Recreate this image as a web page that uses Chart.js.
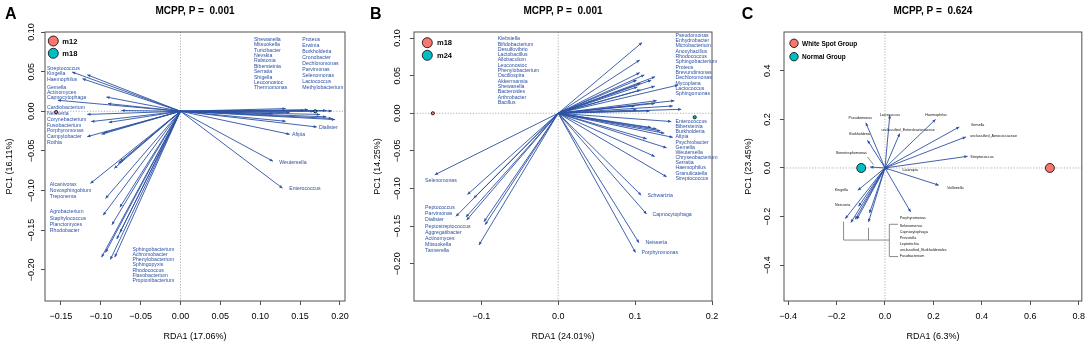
<!DOCTYPE html>
<html>
<head>
<meta charset="utf-8">
<script src="https://cdn.jsdelivr.net/npm/chart.js@4.4.1/dist/chart.umd.min.js"></script>
<style>
  body { margin: 0; background: #fff; width: 1091px; height: 346px; overflow: hidden; position: relative; }
  .panel { position: absolute; top: 0; height: 346px; }
</style>
</head>
<body>
<div class="panel" style="left:0;width:365px"><canvas id="chartA"></canvas></div>
<div class="panel" style="left:365px;width:360px"><canvas id="chartB"></canvas></div>
<div class="panel" style="left:725px;width:366px"><canvas id="chartC"></canvas></div>
<script>
const FONT = '"Liberation Sans", Arial, sans-serif';
const BLUE = '#2c51a4';

// ---------- panel A (m12 vs m18) ----------
const aArrowX = [-0.136, -0.117, -0.123, -0.154, -0.093, -0.091, -0.074, -0.117, -0.112, -0.090, -0.096, -0.099, -0.117,
  0.132, 0.155, 0.167, 0.183, 0.190, 0.116, 0.137, 0.160, 0.175, 0.183, 0.190, 0.194, 0.132, 0.171, 0.137, 0.116, 0.128,
  -0.113, -0.094, -0.097, -0.086, -0.076, -0.076, -0.080, -0.099, -0.094, -0.088, -0.0825, -0.083, -0.078, -0.076];
const aArrowY = [0.0495, 0.046, 0.041, 0.0139, 0.018, 0.0097, 0.001, -0.004, -0.013, -0.014, -0.027, -0.029, -0.032,
  0.0034, 0.001, 0.0, 0.001, 0.0004, -0.003, -0.0017, 0.002, -0.004, -0.007, -0.009, -0.0105, -0.0126, -0.0198, -0.029, -0.063, -0.097,
  -0.091, -0.110, -0.131, -0.143, -0.121, -0.153, -0.161, -0.184, -0.178, -0.187, -0.184, -0.072, -0.066, -0.064];
const aGroups = ['m12', 'm18'];
const aGroupX = [-0.156, 0.169];
const aGroupY = [-0.001, 0.0];
const aXTicks = [-0.15, -0.10, -0.05, 0, 0.05, 0.10, 0.15, 0.20];
const aYTicks = [-0.20, -0.15, -0.10, -0.05, 0, 0.05, 0.10];
const aTaxaL1 = ['Streptococcus', 'Kingella', 'Haemophilus'];
const aTaxaL2 = ['Gemella', 'Actinomyces', 'Capnocytophaga'];
const aTaxaL3 = ['Cardiobacterium', 'Neisseria', 'Corynebacterium', 'Fusobacterium', 'Porphyromonas', 'Campylobacter', 'Rothia'];
const aTaxaL4 = ['Alcanivorax', 'Novosphingobium', 'Treponema'];
const aTaxaL5 = ['Agrobacterium', 'Staphylococcus', 'Planctomyces', 'Rhodobacter'];
const aTaxaBot = ['Sphingobacterium', 'Achromobacter', 'Phenylobacterium', 'Sphingopyxis', 'Rhodococcus', 'Flavobacterium', 'Propionibacterium'];
const aTaxaTop1 = ['Shewanella', 'Mitsuokella', 'Turicibacter', 'Nevskia', 'Ralstonia', 'Bibersteinia', 'Serratia', 'Shigella', 'Leuconostoc', 'Thermomonas'];
const aTaxaTop2 = ['Proteus', 'Erwinia', 'Burkholderia', 'Cronobacter', 'Dechloromonas', 'Parvimonas', 'Selenomonas', 'Lactococcus', 'Methylobacterium'];

// ---------- panel B (m18 vs m24) ----------
const bArrowX = [0.109, 0.106, 0.106, 0.112, 0.126, 0.121, 0.102, 0.107, 0.103, 0.1256, 0.107, 0.156, 0.128, 0.151, 0.1256, 0.149, 0.160, 0.0996, 0.119, 0.102,
  0.147, 0.121, 0.128, 0.138, 0.133, 0.149, 0.115, 0.141, 0.1256, 0.141, 0.108, 0.115, 0.105, 0.1005,
  -0.1605, -0.118, -0.110, -0.133, -0.120, -0.119, -0.0965, -0.095, -0.103];
const bArrowY = [0.094, 0.0707, 0.054, 0.051, 0.0485, 0.044, 0.044, 0.040, 0.035, 0.036, 0.031, 0.0375, 0.0167, 0.0167, 0.013, 0.0097, 0.0053, 0.0097, 0.003, 0.0044,
  -0.011, -0.019, -0.021, -0.0265, -0.0235, -0.032, -0.034, -0.046, -0.0575, -0.0845, -0.109, -0.134, -0.172, -0.185,
  -0.0818, -0.108, -0.113, -0.137, -0.138, -0.142, -0.144, -0.148, -0.175];
const bGroups = ['m18', 'm24'];
const bGroupX = [-0.163, 0.1775];
const bGroupY = [0.0, -0.0053];
const bXTicks = [-0.1, 0, 0.1, 0.2];
const bYTicks = [-0.20, -0.15, -0.10, -0.05, 0, 0.05, 0.10];
const bTaxaTopL = ['Klebsiella', 'Bifidobacterium', 'Desulfovibrio', 'Lactobacillus', 'Allobaculum', 'Leuconostoc', 'Phenylobacterium', 'Oscillospira', 'Akkermansia', 'Shewanella', 'Bacteroides', 'Arthrobacter', 'Bacillus'];
const bTaxaTopR = ['Pseudomonas', 'Enhydrobacter', 'Microbacterium', 'Anoxybacillus', 'Rhodococcus', 'Sphingobacterium', 'Proteus', 'Brevundimonas', 'Dechloromonas', 'Mycoplana', 'Lactococcus', 'Sphingomonas'];
const bTaxaMidR = ['Enterococcus', 'Bibersteinia', 'Burkholderia', 'Afipia', 'Psychrobacter', 'Gemella', 'Weutersella', 'Chryseobacterium', 'Serratia', 'Haemophilus', 'Granulicatella', 'Streptococcus'];
const bTaxaBotL = ['Peptococcus', 'Parvimonas', 'Dialister', 'Peptostreptococcus', 'Aggregatibacter', 'Actinomyces', 'Mitsuokella', 'Tannerella'];

// ---------- panel C (white spot vs normal) ----------
const cArrowX = [-0.079, 0.020, 0.209, 0.307, 0.334, 0.341, -0.072, 0.061, -0.061, 0.0135, 0.222, -0.112, -0.109, 0.106, -0.164, -0.141, -0.123, -0.116, -0.064, -0.068];
const cArrowY = [0.186, 0.217, 0.200, 0.169, 0.128, 0.048, 0.114, 0.142, 0.004, -0.0054, -0.071, -0.092, -0.158, -0.181, -0.209, -0.225, -0.2115, -0.2115, -0.1856, -0.2227];
const cGroups = ['White Spot Group', 'Normal Group'];
const cGroupX = [0.681, -0.098];
const cGroupY = [0.0, 0.0];
const cXTicks = [-0.4, -0.2, 0, 0.2, 0.4, 0.6, 0.8];
const cYTicks = [-0.4, -0.2, 0, 0.2, 0.4];
const cTaxaGroup = ['Selenomonas', 'Capnocytophaga', 'Prevotella', 'Leptotrichia', 'unclassified_Burkholderiales', 'Fusobacterium'];

const SALMON = '#f8766d', TEAL = '#00bfc4';

const fmt = d => v => (v < 0 ? '\u2212' : '') + Math.abs(v).toFixed(d);

function rdaPlugin(p) {
  return {
    id: 'rda' + p.letter,
    beforeDatasetsDraw(chart) {
      const { ctx, chartArea: ca, scales: { x, y } } = chart;
      const X = v => x.getPixelForValue(v), Y = v => y.getPixelForValue(v);
      ctx.save();
      ctx.strokeStyle = '#9a9a9a';
      ctx.lineWidth = 0.8;
      ctx.setLineDash([1.2, 1.6]);
      ctx.beginPath();
      ctx.moveTo(X(0), ca.top); ctx.lineTo(X(0), ca.bottom);
      ctx.moveTo(ca.left, Y(0)); ctx.lineTo(ca.right, Y(0));
      ctx.stroke();
      ctx.setLineDash([]);

      // grey connector lines (panel C)
      ctx.strokeStyle = '#6e6e6e';
      ctx.lineWidth = 0.8;
      (p.extraLines || []).forEach(l => {
        ctx.beginPath();
        ctx.moveTo(X(l[0]), Y(l[1]));
        ctx.lineTo(X(l[2]), Y(l[3]));
        ctx.stroke();
      });

      // arrows
      ctx.strokeStyle = BLUE;
      ctx.fillStyle = BLUE;
      ctx.lineWidth = 0.9;
      const x0 = X(0), y0 = Y(0);
      p.arrowX.forEach((ax, i) => {
        const x1 = X(ax), y1 = Y(p.arrowY[i]);
        ctx.beginPath(); ctx.moveTo(x0, y0); ctx.lineTo(x1, y1); ctx.stroke();
        const a = Math.atan2(y1 - y0, x1 - x0), c = Math.cos(a), s = Math.sin(a);
        ctx.beginPath();
        ctx.moveTo(x1, y1);
        ctx.lineTo(x1 - 3.2 * c + 1.5 * s, y1 - 3.2 * s - 1.5 * c);
        ctx.lineTo(x1 - 3.2 * c - 1.5 * s, y1 - 3.2 * s + 1.5 * c);
        ctx.closePath();
        ctx.fill();
      });

      // taxon labels
      ctx.font = p.labelFont;
      ctx.fillStyle = p.labelColor;
      ctx.textBaseline = 'middle';
      p.labels.forEach(([names, lx, ly, step, align]) => {
        ctx.textAlign = align || 'left';
        names.forEach((n, k) => ctx.fillText(n, X(lx), Y(ly) + k * step));
      });
      ctx.restore();
    },
    afterDraw(chart) {
      const { ctx, chartArea: ca, scales: { y } } = chart;
      ctx.save();
      ctx.strokeStyle = '#505050';
      ctx.lineWidth = 1;
      ctx.strokeRect(ca.left, ca.top, ca.width, ca.height);

      // rotated y tick labels, R style
      ctx.fillStyle = '#000';
      ctx.font = '9px ' + FONT;
      ctx.textAlign = 'center';
      ctx.textBaseline = 'middle';
      y.ticks.forEach(t => {
        ctx.save();
        ctx.translate(ca.left - p.yLabelOffset, y.getPixelForValue(t.value));
        ctx.rotate(-Math.PI / 2);
        ctx.fillText(p.yFmt(t.value), 0, 0);
        ctx.restore();
      });

      // title and panel letter
      ctx.font = 'bold 10px ' + FONT;
      ctx.fillText(p.title, (ca.left + ca.right) / 2, 11);
      ctx.font = 'bold 16px ' + FONT;
      ctx.textAlign = 'left';
      ctx.fillText(p.letter, p.letterX, 15);

      // legend
      ctx.font = p.legendFont;
      p.groups.forEach((g, i) => {
        const cx = ca.left + p.legend.x, cy = ca.top + p.legend.y + i * p.legend.step;
        ctx.beginPath();
        ctx.arc(cx, cy, p.legend.r, 0, Math.PI * 2);
        ctx.fillStyle = i === 0 ? SALMON : TEAL;
        ctx.fill();
        ctx.strokeStyle = '#000';
        ctx.lineWidth = 0.8;
        ctx.stroke();
        ctx.fillStyle = '#000';
        ctx.fillText(g, cx + p.legend.tx, cy + 0.5);
      });
      ctx.restore();
    }
  };
}

function makePanel(id, p) {
  const axisFont = { size: 9, family: FONT };
  new Chart(document.getElementById(id), {
    type: 'scatter',
    data: {
      datasets: p.groups.map((g, i) => ({
        label: g,
        data: [{ x: p.groupX[i], y: p.groupY[i] }],
        backgroundColor: i === 0 ? SALMON : TEAL,
        borderColor: '#000',
        borderWidth: 0.8,
        pointRadius: p.pointRadius
      }))
    },
    options: {
      responsive: true,
      maintainAspectRatio: false,
      animation: false,
      events: [],
      layout: { padding: { top: 32, right: p.padRight, left: 0, bottom: 0 } },
      plugins: { legend: { display: false }, tooltip: { enabled: false }, title: { display: false } },
      scales: {
        x: {
          type: 'linear', min: p.xMin, max: p.xMax,
          afterBuildTicks: s => { s.ticks = p.xTicks.map(v => ({ value: v })); },
          afterFit: s => { s.height = 45; },
          grid: { drawOnChartArea: false, drawTicks: true, tickLength: 4, color: '#505050' },
          border: { display: false },
          ticks: { font: axisFont, color: '#000', padding: 6, maxRotation: 0, autoSkip: false, callback: p.xFmt },
          title: { display: true, text: p.xTitle, font: axisFont, color: '#000', padding: { top: 4, bottom: 4 } }
        },
        y: {
          type: 'linear', min: p.yMin, max: p.yMax,
          afterBuildTicks: s => { s.ticks = p.yTicks.map(v => ({ value: v })); },
          afterFit: s => { s.width = p.yWidth; },
          grid: { drawOnChartArea: false, drawTicks: true, tickLength: 4, color: '#505050' },
          border: { display: false },
          ticks: { display: false },
          title: { display: true, text: p.yTitle, font: axisFont, color: '#000', padding: { top: p.yTitlePad, bottom: p.yTitlePad } }
        }
      }
    },
    plugins: [rdaPlugin(p)]
  });
}

makePanel('chartA', {
  letter: 'A', letterX: 5, title: 'MCPP, P =  0.001',
  xTitle: 'RDA1 (17.06%)', yTitle: 'PC1 (16.11%)',
  xMin: -0.170, xMax: 0.2064, yMin: -0.2393, yMax: 0.10,
  xTicks: aXTicks, yTicks: aYTicks, xFmt: fmt(2), yFmt: fmt(2),
  yWidth: 45, padRight: 20, yLabelOffset: 13.5, yTitlePad: 4.5,
  arrowX: aArrowX, arrowY: aArrowY,
  groups: aGroups, groupX: aGroupX, groupY: aGroupY, pointRadius: 1.6,
  legend: { x: 8.3, y: 9, step: 12.3, r: 5, tx: 9 }, legendFont: 'bold 7.5px ' + FONT,
  labelFont: '5.2px ' + FONT, labelColor: BLUE,
  labels: [
    [aTaxaL1, -0.1676, 0.0538, 5.35],
    [aTaxaL2, -0.1676, 0.0293, 5.0],
    [aTaxaL3, -0.1676, 0.0042, 5.77],
    [aTaxaL4, -0.164, -0.0928, 6.0],
    [aTaxaL5, -0.164, -0.127, 6.2],
    [aTaxaBot, -0.0603, -0.1738, 5.33],
    [aTaxaTop1, 0.0921, 0.0907, 5.4],
    [aTaxaTop2, 0.1528, 0.0907, 6.08],
    [['Dialister'], 0.1737, -0.0202, 0],
    [['Afipia'], 0.140, -0.029, 0],
    [['Weutersella'], 0.1239, -0.0642, 0],
    [['Enterococcus'], 0.1364, -0.0974, 0]
  ]
});

makePanel('chartB', {
  letter: 'B', letterX: 5, title: 'MCPP, P =  0.001',
  xTitle: 'RDA1 (24.01%)', yTitle: 'PC1 (14.25%)',
  xMin: -0.1875, xMax: 0.2, yMin: -0.2495, yMax: 0.108,
  xTicks: bXTicks, yTicks: bYTicks, xFmt: fmt(1), yFmt: fmt(2),
  yWidth: 49, padRight: 13, yLabelOffset: 16, yTitlePad: 7,
  arrowX: bArrowX, arrowY: bArrowY,
  groups: bGroups, groupX: bGroupX, groupY: bGroupY, pointRadius: 1.6,
  legend: { x: 13.3, y: 10.7, step: 12.6, r: 5, tx: 9.7 }, legendFont: 'bold 7.5px ' + FONT,
  labelFont: '5.2px ' + FONT, labelColor: BLUE,
  labels: [
    [bTaxaTopL, -0.0787, 0.0989, 5.3],
    [bTaxaTopR, 0.1525, 0.1038, 5.33],
    [bTaxaMidR, 0.1525, -0.0111, 5.15],
    [['Selenomonas'], -0.1731, -0.0889, 0],
    [bTaxaBotL, -0.1731, -0.1256, 6.1],
    [['Schwartzia'], 0.1161, -0.1097, 0],
    [['Capnocytophaga'], 0.1226, -0.1349, 0],
    [['Neisseria'], 0.1135, -0.1724, 0],
    [['Porphyromonas'], 0.1083, -0.1853, 0]
  ]
});

makePanel('chartC', {
  letter: 'C', letterX: 16.7, title: 'MCPP, P =  0.624',
  xTitle: 'RDA1 (6.3%)', yTitle: 'PC1 (23.45%)',
  xMin: -0.417, xMax: 0.813, yMin: -0.548, yMax: 0.56,
  xTicks: cXTicks, yTicks: cYTicks, xFmt: fmt(1), yFmt: fmt(1),
  yWidth: 59, padRight: 6, yLabelOffset: 16, yTitlePad: 18,
  arrowX: cArrowX, arrowY: cArrowY,
  groups: cGroups, groupX: cGroupX, groupY: cGroupY, pointRadius: 4.5,
  legend: { x: 10, y: 11.3, step: 13.4, r: 4.2, tx: 8 }, legendFont: 'bold 6.5px ' + FONT,
  labelFont: '3.7px ' + FONT, labelColor: '#111',
  labels: [
    [['Pseudomonas'], -0.102, 0.204, 0, 'center'],
    [['Lactococcus'], 0.0204, 0.2186, 0, 'center'],
    [['Haemophilus'], 0.211, 0.220, 0, 'center'],
    [['Gemella'], 0.354, 0.176, 0],
    [['unclassified_Aerococcaceae'], 0.352, 0.1307, 0],
    [['Streptococcus'], 0.352, 0.0454, 0],
    [['Burkholderia'], -0.105, 0.139, 0, 'center'],
    [['unclassified_Enterobacteriaceae'], 0.0953, 0.158, 0, 'center'],
    [['Stenotrophomonas'], -0.139, 0.0635, 0, 'center'],
    [['Lautropia'], 0.072, -0.0066, 0],
    [['Veillonella'], 0.256, -0.081, 0],
    [['Kingella'], -0.18, -0.089, 0, 'center'],
    [['Neisseria'], -0.1746, -0.154, 0, 'center'],
    [['Porphyromonas'], 0.0613, -0.206, 0],
    [cTaxaGroup, 0.0613, -0.2375, 6.0]
  ],
  extraLines: [
    [-0.072, 0.045, -0.048, 0.014],
    [-0.171, -0.221, -0.171, -0.297],
    [-0.068, -0.246, -0.068, -0.297],
    [-0.171, -0.297, 0.018, -0.297],
    [0.018, -0.232, 0.018, -0.365],
    [0.018, -0.232, 0.054, -0.232],
    [0.018, -0.365, 0.054, -0.365]
  ]
});
</script>
</body>
</html>
